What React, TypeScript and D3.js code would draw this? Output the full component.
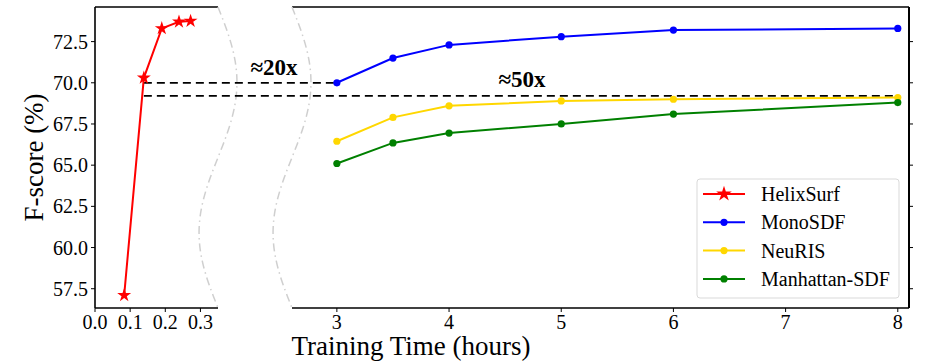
import React, { useRef, useEffect } from "react";
import * as d3 from "d3";

// HelixSurf (minutes-scale training, left panel)
const helixTime = [0.083, 0.139, 0.19, 0.239, 0.272];
const helixScore = [57.1, 70.3, 73.3, 73.7, 73.75];

// baselines (hours, right panel)
const baseTime = [3, 3.5, 4, 5, 6, 8];
const monoScore = [70.0, 71.5, 72.3, 72.8, 73.2, 73.3];
const neurisScore = [66.45, 67.9, 68.6, 68.9, 69.0, 69.1];
const manhattanScore = [65.1, 66.35, 66.95, 67.5, 68.1, 68.8];

const seriesNames = ["HelixSurf", "MonoSDF", "NeuRIS", "Manhattan-SDF"];
const seriesColors = ["#ff0000", "#0000ff", "#ffd700", "#008000"];

const yTicks = [57.5, 60.0, 62.5, 65.0, 67.5, 70.0, 72.5];
const leftTicks = [0.0, 0.1, 0.2, 0.3];
const rightTicks = [3, 4, 5, 6, 7, 8];

// dashed reference lines + speedup labels
const refScores = [70.0, 69.2];
const refEnds = [3, 8];
const speedLabels = ["≈20x", "≈50x"];
const speedX = [2.44, 4.65];
const speedY = [70.5, 69.75];

const FONT = "'Liberation Serif', 'Times New Roman', serif";

const App = () => {
    const svgRef = useRef(null);
    const W = 952;
    const H = 363;

    useEffect(() => {
        const svg = d3.select(svgRef.current);
        svg.selectAll("*").remove();

        const top = 7, bottom = 308;
        const y = d3.scaleLinear().domain([56.33, 74.6]).range([bottom, top]);
        const x1 = d3.scaleLinear().domain([0, 0.35]).range([95, 218]);
        const x2 = d3.scaleLinear().domain([2.6, 8.1]).range([292, 909]);

        const spine = (x0, y0, xa, ya, w = 1.6) =>
            svg.append("line")
                .attr("x1", x0).attr("y1", y0).attr("x2", xa).attr("y2", ya)
                .attr("stroke", "#000").attr("stroke-width", w);

        // spines
        spine(x1.range()[0], top, x1.range()[1], top);
        spine(x1.range()[0], bottom, x1.range()[1], bottom);
        spine(x1.range()[0], top, x1.range()[0], bottom);
        spine(x2.range()[0], top, x2.range()[1], top);
        spine(x2.range()[0], bottom, x2.range()[1], bottom);
        spine(x2.range()[1], top, x2.range()[1], bottom, 2);

        // y ticks left (with labels) and right (ticks only)
        yTicks.forEach((t) => {
            spine(x1.range()[0] - 4, y(t), x1.range()[0], y(t), 1);
            spine(x2.range()[1], y(t), x2.range()[1] + 4, y(t), 1);
            svg.append("text")
                .attr("x", x1.range()[0] - 7).attr("y", y(t) + 7)
                .attr("text-anchor", "end")
                .attr("font-family", FONT).attr("font-size", 20)
                .text(t.toFixed(1));
        });

        // x ticks
        leftTicks.forEach((t) => {
            spine(x1(t), bottom, x1(t), bottom + 4, 1);
            svg.append("text")
                .attr("x", x1(t)).attr("y", bottom + 21)
                .attr("text-anchor", "middle")
                .attr("font-family", FONT).attr("font-size", 20)
                .text(t.toFixed(1));
        });
        rightTicks.forEach((t) => {
            spine(x2(t), bottom, x2(t), bottom + 4, 1);
            svg.append("text")
                .attr("x", x2(t)).attr("y", bottom + 21)
                .attr("text-anchor", "middle")
                .attr("font-family", FONT).attr("font-size", 20)
                .text(t);
        });

        // axis labels
        svg.append("text")
            .attr("x", 411).attr("y", 355)
            .attr("text-anchor", "middle")
            .attr("font-family", FONT).attr("font-size", 27)
            .text("Training Time (hours)");
        svg.append("text")
            .attr("transform", `translate(43, ${(top + bottom) / 2}) rotate(-90)`)
            .attr("text-anchor", "middle")
            .attr("font-family", FONT).attr("font-size", 27)
            .text("F-score (%)");

        // wavy break marks
        const wave = d3.line().curve(d3.curveBasis);
        [x1.range()[1], x2.range()[0]].forEach((x0) => {
            const pts = d3.range(0, 1.0001, 0.02).map((t) => [
                x0 + 19 * Math.sin(2 * Math.PI * t),
                top + t * (bottom - top),
            ]);
            svg.append("path")
                .attr("d", wave(pts))
                .attr("fill", "none")
                .attr("stroke", "#cfcfcf")
                .attr("stroke-width", 1.5)
                .attr("stroke-dasharray", "8,4,1.5,4");
        });

        // dashed reference lines
        refScores.forEach((s, i) => {
            svg.append("line")
                .attr("x1", x1(helixTime[1])).attr("y1", y(s))
                .attr("x2", x2(refEnds[i])).attr("y2", y(s))
                .attr("stroke", "#000").attr("stroke-width", 1.8)
                .attr("stroke-dasharray", "8,5");
            svg.append("text")
                .attr("x", x2(speedX[i])).attr("y", y(speedY[i]))
                .attr("text-anchor", "middle")
                .attr("font-family", FONT).attr("font-size", 23)
                .attr("font-weight", "bold")
                .text(speedLabels[i]);
        });

        // baseline series
        const baseSeries = [monoScore, neurisScore, manhattanScore];
        const line2 = d3.line().x((d) => x2(d[0])).y((d) => y(d[1]));
        baseSeries.forEach((vals, i) => {
            const pts = baseTime.map((t, j) => [t, vals[j]]);
            const c = seriesColors[i + 1];
            svg.append("path")
                .attr("d", line2(pts))
                .attr("fill", "none").attr("stroke", c).attr("stroke-width", 2);
            svg.selectAll(null).data(pts).enter().append("circle")
                .attr("cx", (d) => x2(d[0])).attr("cy", (d) => y(d[1]))
                .attr("r", 3.6).attr("fill", c);
        });

        // HelixSurf
        const hpts = helixTime.map((t, j) => [t, helixScore[j]]);
        const line1 = d3.line().x((d) => x1(d[0])).y((d) => y(d[1]));
        svg.append("path")
            .attr("d", line1(hpts))
            .attr("fill", "none").attr("stroke", seriesColors[0]).attr("stroke-width", 2);
        const star = d3.symbol().type(d3.symbolStar).size(60);
        svg.selectAll(null).data(hpts).enter().append("path")
            .attr("d", star)
            .attr("transform", (d) => `translate(${x1(d[0])}, ${y(d[1])})`)
            .attr("fill", seriesColors[0]);

        // legend
        const lg = svg.append("g").attr("transform", "translate(697, 179)");
        lg.append("rect")
            .attr("width", 202).attr("height", 119).attr("rx", 3)
            .attr("fill", "#fff").attr("fill-opacity", 0.85)
            .attr("stroke", "#d9d9d9").attr("stroke-width", 1);
        seriesNames.forEach((name, i) => {
            const ly = 15 + i * 28.3;
            const c = seriesColors[i];
            lg.append("line")
                .attr("x1", 6).attr("x2", 48).attr("y1", ly).attr("y2", ly)
                .attr("stroke", c).attr("stroke-width", 2);
            if (i === 0) {
                lg.append("path")
                    .attr("d", d3.symbol().type(d3.symbolStar).size(75)())
                    .attr("transform", `translate(27, ${ly})`)
                    .attr("fill", c);
            } else {
                lg.append("circle").attr("cx", 27).attr("cy", ly).attr("r", 3.6).attr("fill", c);
            }
            lg.append("text")
                .attr("x", 64).attr("y", ly + 7)
                .attr("font-family", FONT).attr("font-size", 20)
                .text(name);
        });
    }, []);

    return (
        <svg
            ref={svgRef}
            width={W}
            height={H}
            style={{ position: "absolute", left: 0, top: 0, background: "#fff" }}
        ></svg>
    );
};

export default App;
